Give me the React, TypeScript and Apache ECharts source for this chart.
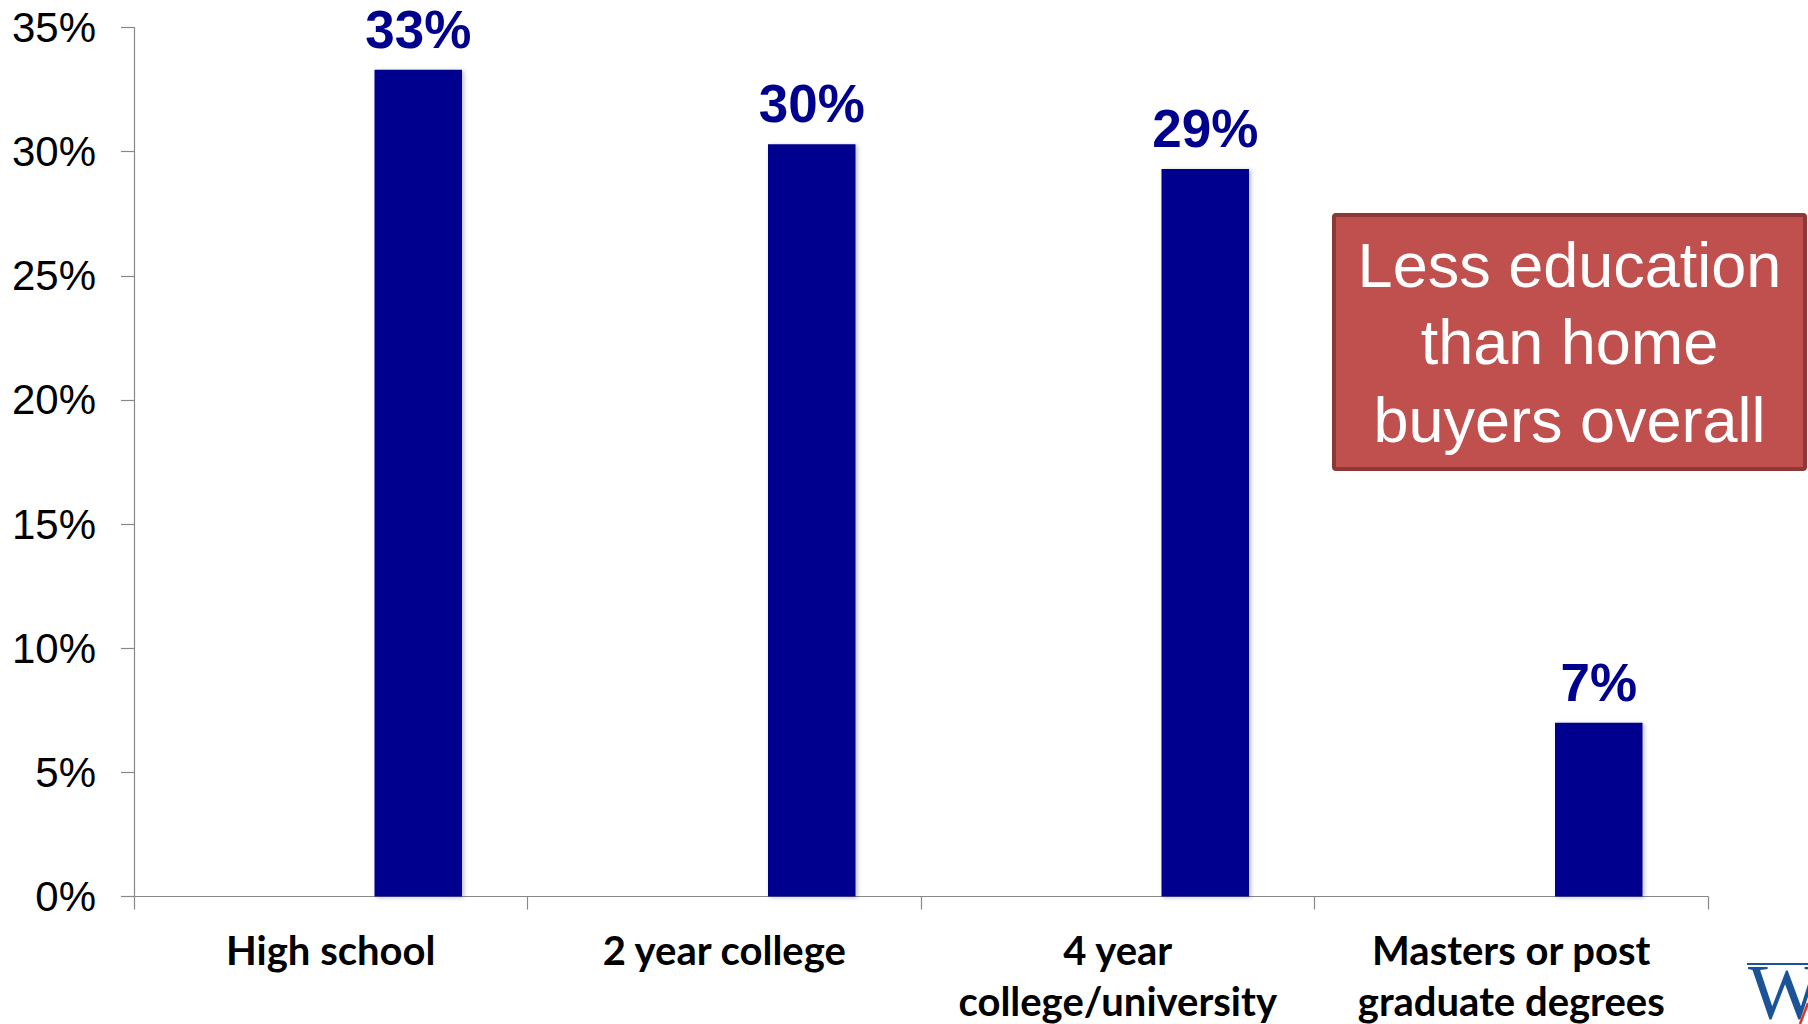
import React, { useEffect, useRef } from "react";
import * as echarts from "echarts";

const categories = [
  "High school",
  "2 year college",
  "4 year\ncollege/university",
  "Masters or post\ngraduate degrees",
];
const shares = [33.3, 30.3, 29.3, 7.0];
const emptySeries = [null, null, null, null];
const yMin = 0;
const yMax = 35;
const yStep = 5;
const noteLines = ["Less education", "than home", "buyers overall"];

const BAR = "#00008F";

export default function App() {
  const ref = useRef<HTMLDivElement>(null);
  useEffect(() => {
    if (!ref.current) return;
    const chart = echarts.init(ref.current, null, { renderer: "svg" });
    const barCommon = {
      type: "bar",
      barWidth: 87.5,
      barGap: "0%",
    };
    chart.setOption({
      animation: false,
      backgroundColor: "#ffffff",
      grid: {
        left: 134,
        right: 100,
        top: 27.5,
        bottom: 127.5,
        containLabel: false,
        outerBoundsMode: "none",
      },
      xAxis: {
        type: "category",
        data: categories,
        axisLine: { show: true, lineStyle: { color: "#888888", width: 1.2 } },
        axisTick: { show: true, length: 13, lineStyle: { color: "#888888", width: 1.2 } },
        axisLabel: {
          interval: 0,
          margin: 27.5,
          color: "#000000",
          fontFamily: "Lato",
          fontWeight: "bold",
          fontSize: 40,
          lineHeight: 51,
        },
      },
      yAxis: {
        type: "value",
        min: yMin,
        max: yMax,
        interval: yStep,
        splitLine: { show: false },
        axisLine: { show: true, lineStyle: { color: "#888888", width: 1.2 } },
        axisTick: { show: true, length: 13, lineStyle: { color: "#888888", width: 1.2 } },
        axisLabel: {
          margin: 38,
          color: "#000000",
          fontFamily: "Liberation Sans, Arial",
          fontSize: 42,
          formatter: "{value}%",
        },
      },
      series: [
        { ...barCommon, name: "a", data: emptySeries },
        { ...barCommon, name: "b", data: emptySeries },
        {
          ...barCommon,
          name: "Share",
          data: shares,
          itemStyle: {
            color: BAR,
            shadowColor: "rgba(0,0,0,0.25)",
            shadowBlur: 4,
            shadowOffsetX: 2,
            shadowOffsetY: 1,
          },
          label: {
            show: true,
            position: "top",
            distance: 14,
            color: BAR,
            fontFamily: "Liberation Sans, Arial",
            fontWeight: "bold",
            fontSize: 53,
            formatter: (p: any) => Math.round(p.value) + "%",
          },
        },
      ],
      graphic: [
        {
          type: "rect",
          shape: { x: 1334, y: 215, width: 471, height: 254, r: 2 },
          style: { fill: "#C0504D", stroke: "#8C3836", lineWidth: 4 },
          z: 10,
        },
        {
          type: "text",
          x: 1569.5,
          y: 342,
          z: 11,
          style: {
            text: noteLines.join("\n"),
            fill: "#ffffff",
            font: "63px 'Liberation Sans', Arial",
            lineHeight: 77.5,
            align: "center",
            verticalAlign: "middle",
          },
        },
        {
          type: "line",
          shape: { x1: 1747, y1: 964, x2: 1808, y2: 964 },
          style: { stroke: "#1B5496", lineWidth: 2 },
          z: 10,
        },
        {
          type: "text",
          x: 1748,
          y: 952,
          z: 10,
          style: {
            text: "W",
            fill: "#1B5496",
            font: "78px 'Liberation Serif', serif",
            lineHeight: 78,
            align: "left",
            verticalAlign: "top",
          },
        },
        {
          type: "line",
          shape: { x1: 1808, y1: 1003, x2: 1800, y2: 1024 },
          style: { stroke: "#E03030", lineWidth: 2.5 },
          z: 12,
        },
      ],
    });
    return () => chart.dispose();
  }, []);
  return (
    <div
      ref={ref}
      style={{ position: "absolute", left: 0, top: 0, width: 1808, height: 1024 }}
    />
  );
}
